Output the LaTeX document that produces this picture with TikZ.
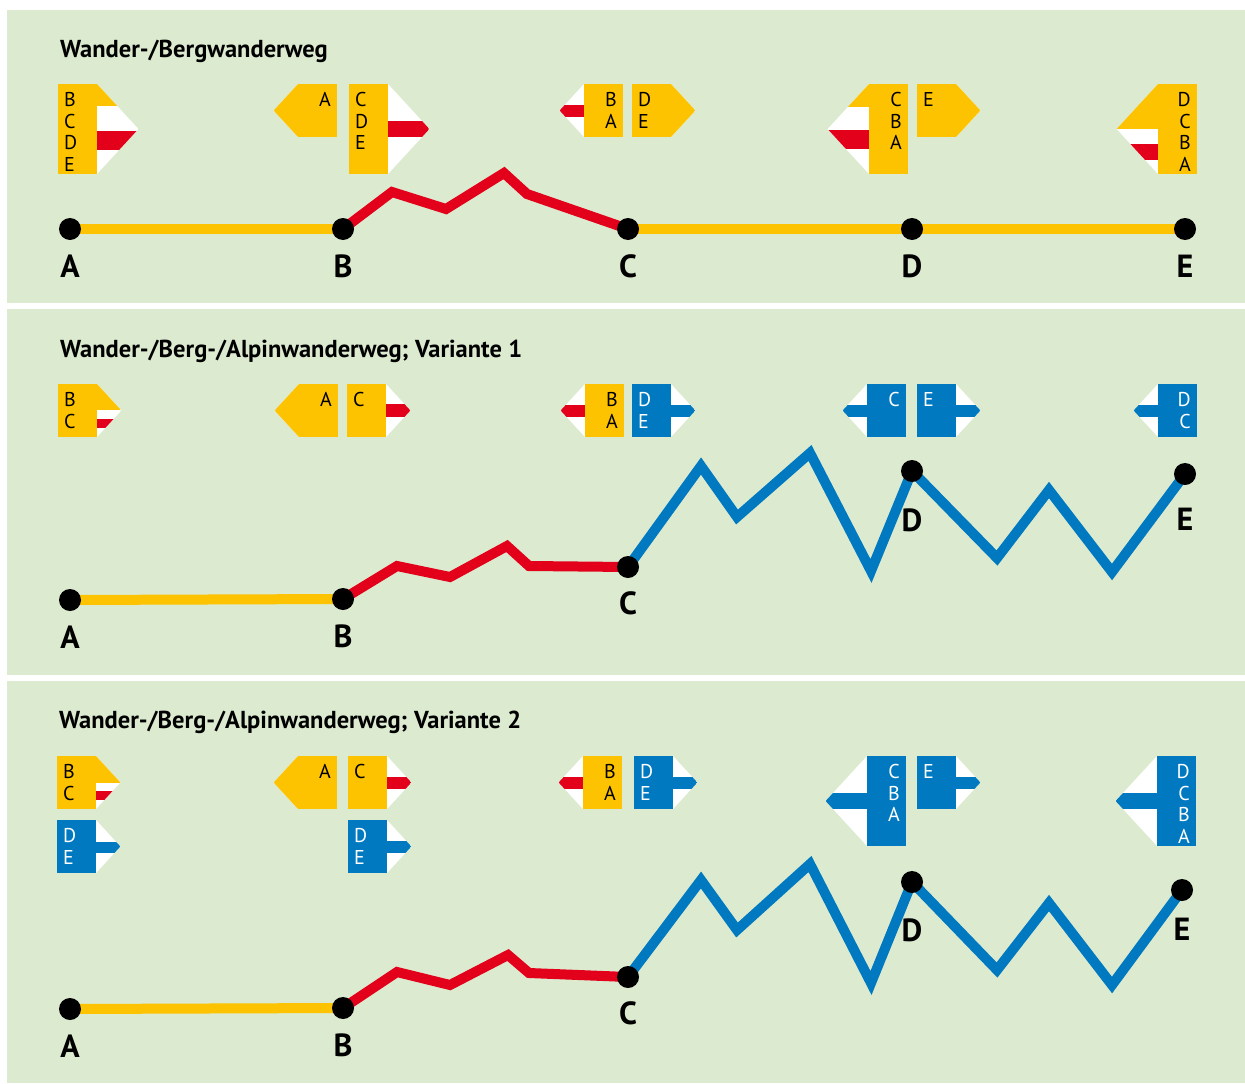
\documentclass[tikz,border=0pt]{standalone}
\usepackage{fontspec}
\setmainfont{PT Sans}
\usetikzlibrary{positioning}
\pgfdeclarelayer{bg}
\pgfdeclarelayer{trail}
\pgfsetlayers{bg,trail,main}
\definecolor{wegyellow}{RGB}{253,195,0}
\definecolor{bergred}{RGB}{227,0,27}
\definecolor{alpinblue}{RGB}{0,121,192}
\definecolor{panelgreen}{RGB}{220,235,207}
\tikzset{
	% panels and titles
	panel/.style={fill=panelgreen},
	title/.style={anchor=base west,inner sep=0pt,font=\bfseries\fontsize{24.5}{27}\selectfont},
	% stops on the trail
	stop/.style={circle,fill=black,minimum size=22pt,inner sep=0pt},
	stoplabel/.style={inner sep=0pt,font=\bfseries\fontsize{32}{34}\selectfont},
	% trail styles
	wanderweg/.style={wegyellow,line width=10pt},
	bergweg/.style={bergred,line width=10pt,line join=miter},
	alpinweg/.style={alpinblue,line width=10pt,line join=miter},
	% letters on the signs
	signtext/.style={inner sep=0pt,font=\fontsize{20}{21.7}\selectfont},
}
\newcommand{\signw}{39}
% #1 x, #2 y, #3 height, #4 direction (1 right, -1 left), #5 body colour,
% #6 band colour, #7 yellow part of the tip, #8 band centre, #9 band half width
\newcommand{\wegweiser}[9]{%
	\pgfmathsetmacro{\tipx}{#1+\signw*(1+#4)/2}%
	\pgfmathsetmacro{\endx}{\tipx+#4*0.46*#3}%
	\fill[#5] (#1,#2) rectangle ++(\signw,#3);
	\begin{scope}
		\clip (\tipx,#2) -- (\endx,#2+#3/2) -- (\tipx,#2+#3) -- cycle;
		\fill[white] (\tipx,#2) rectangle (\endx,#2+#3);
		\fill[#6] (\tipx,#2+#8-#9) rectangle (\endx,#2+#8+#9);
		\fill[wegyellow] (\tipx,#2) rectangle (\endx,#2+#7);
	\end{scope}}
% #1 name, #2 x, #3 y, #4 direction, #5 colour, #6 letters
\newcommand{\wegtext}[6]{%
	\ifnum#4>0
		\node[signtext,text=#5,align=left,anchor=north west] (#1) at (#2+6,#3+8) {#6};
	\else
		\node[signtext,text=#5,align=right,anchor=north east] (#1) at (#2+\signw-6,#3+8) {#6};
	\fi}

\begin{document}
\begin{tikzpicture}[x=1pt,y=-1pt]
\useasboundingbox (0,0) rectangle (1245,1084);
% the three panels
\begin{pgfonlayer}{bg}
\fill[white] (0,0) rectangle (1245,1084);
\fill[panel] (7,10) rectangle (1245,303);
\fill[panel] (7,309) rectangle (1245,675);
\fill[panel] (7,681) rectangle (1245,1083);
\end{pgfonlayer}
\node[title] (t1) at (60,57) {Wander-/Bergwanderweg};
\node[title] (t2) at (60,357) {Wander-/Berg-/Alpinwanderweg; Variante 1};
\node[title] (t3) at (59,728) {Wander-/Berg-/Alpinwanderweg; Variante 2};

% the stops
\foreach \n/\x/\y in {a1/70/229,b1/343/229,c1/628/229,d1/912/229,e1/1185/229,
	a2/70/600,b2/343/599,c2/628/567,d2/912/471,e2/1185/474,
	a3/70/1009,b3/343/1008,c3/628/977,d3/912/882,e3/1182/890}
  \node[stop] (\n) at (\x,\y) {};
\foreach \n/\lab/\d in {a1/A/14.5,b1/B/14.5,c1/C/14.5,d1/D/14.5,e1/E/14.5,
	a2/A/14.5,b2/B/14.5,c2/C/13.5,d2/D/26,e2/E/23,
	a3/A/14.5,b3/B/14.5,c3/C/13.5,d3/D/25,e3/E/17}
  \node[stoplabel,below=\d pt of \n] (l\n) {\lab};

% the trails
\begin{pgfonlayer}{trail}
\draw[wanderweg] (a1.center) -- (b1.center);
\draw[bergweg] (b1.center) -- (392,192) -- (446,209) -- (504,173) -- (527,194) -- (c1.center);
\draw[wanderweg] (c1.center) -- (d1.center) -- (e1.center);
\draw[wanderweg] (a2.center) -- (b2.center);
\draw[bergweg] (b2.center) -- (397,566) -- (450,577) -- (507,546) -- (529,566) -- (c2.center);
\draw[alpinweg] (c2.center) -- (701,466) -- (737,517) -- (810,453) -- (871,571) -- (d2.center)
	-- (997,558) -- (1049,490) -- (1112,572) -- (e2.center);
\draw[wanderweg] (a3.center) -- (b3.center);
\draw[bergweg] (b3.center) -- (397,972) -- (450,985) -- (508,955) -- (529,973) -- (c3.center);
\draw[alpinweg] (c3.center) -- (701,880) -- (737,930) -- (810,864) -- (871,983) -- (d3.center)
	-- (997,970) -- (1049,903) -- (1112,985) -- (e3.center);
\end{pgfonlayer}

% signs, first panel
\wegweiser{58}{84}{90}{1}{wegyellow}{bergred}{22}{56}{9.5}
\wegtext{s11}{58}{84}{1}{black}{B\\C\\D\\E}
\wegweiser{298}{84}{53}{-1}{wegyellow}{wegyellow}{53}{0}{0}
\wegtext{s12}{298}{84}{-1}{black}{A}
\wegweiser{349}{84}{90}{1}{wegyellow}{bergred}{0}{45}{8}
\wegtext{s13}{349}{84}{1}{black}{C\\D\\E}
\wegweiser{584}{84}{53}{-1}{wegyellow}{bergred}{0}{27}{6}
\wegtext{s14}{584}{84}{-1}{black}{B\\A}
\wegweiser{632}{84}{53}{1}{wegyellow}{wegyellow}{53}{0}{0}
\wegtext{s15}{632}{84}{1}{black}{D\\E}
\wegweiser{869}{84}{90}{-1}{wegyellow}{bergred}{23}{55}{9.5}
\wegtext{s16}{869}{84}{-1}{black}{C\\B\\A}
\wegweiser{917}{84}{53}{1}{wegyellow}{wegyellow}{53}{0}{0}
\wegtext{s17}{917}{84}{1}{black}{E}
\wegweiser{1158}{84}{90}{-1}{wegyellow}{bergred}{45}{68}{8}
\wegtext{s18}{1158}{84}{-1}{black}{D\\C\\B\\A}

% signs, second panel
\wegweiser{58}{384}{53}{1}{wegyellow}{bergred}{26}{39.5}{4.5}
\wegtext{s21}{58}{384}{1}{black}{B\\C}
\wegweiser{299}{384}{53}{-1}{wegyellow}{wegyellow}{53}{0}{0}
\wegtext{s22}{299}{384}{-1}{black}{A}
\wegweiser{347}{384}{53}{1}{wegyellow}{bergred}{0}{26.5}{6.5}
\wegtext{s23}{347}{384}{1}{black}{C}
\wegweiser{585}{384}{53}{-1}{wegyellow}{bergred}{0}{27}{6}
\wegtext{s24}{585}{384}{-1}{black}{B\\A}
\wegweiser{632}{384}{53}{1}{alpinblue}{alpinblue}{0}{27}{6}
\wegtext{s25}{632}{384}{1}{white}{D\\E}
\wegweiser{867}{384}{53}{-1}{alpinblue}{alpinblue}{0}{27}{6}
\wegtext{s26}{867}{384}{-1}{white}{C}
\wegweiser{917}{384}{53}{1}{alpinblue}{alpinblue}{0}{27}{6}
\wegtext{s27}{917}{384}{1}{white}{E}
\wegweiser{1158}{384}{53}{-1}{alpinblue}{alpinblue}{0}{27}{6}
\wegtext{s28}{1158}{384}{-1}{white}{D\\C}

% signs, third panel
\wegweiser{57}{756}{53}{1}{wegyellow}{bergred}{27}{39.5}{4.5}
\wegtext{s31}{57}{756}{1}{black}{B\\C}
\wegweiser{57}{820}{53}{1}{alpinblue}{alpinblue}{0}{27.5}{5.5}
\wegtext{s32}{57}{820}{1}{white}{D\\E}
\wegweiser{298}{756}{53}{-1}{wegyellow}{wegyellow}{53}{0}{0}
\wegtext{s33}{298}{756}{-1}{black}{A}
\wegweiser{348}{756}{53}{1}{wegyellow}{bergred}{0}{27}{6}
\wegtext{s34}{348}{756}{1}{black}{C}
\wegweiser{348}{820}{53}{1}{alpinblue}{alpinblue}{0}{27}{6}
\wegtext{s35}{348}{820}{1}{white}{D\\E}
\wegweiser{583}{756}{53}{-1}{wegyellow}{bergred}{0}{27}{6}
\wegtext{s36}{583}{756}{-1}{black}{B\\A}
\wegweiser{634}{756}{53}{1}{alpinblue}{alpinblue}{0}{27}{6}
\wegtext{s37}{634}{756}{1}{white}{D\\E}
\wegweiser{867}{756}{90}{-1}{alpinblue}{alpinblue}{0}{45}{8}
\wegtext{s38}{867}{756}{-1}{white}{C\\B\\A}
\wegweiser{917}{756}{53}{1}{alpinblue}{alpinblue}{0}{27}{6}
\wegtext{s39}{917}{756}{1}{white}{E}
\wegweiser{1157}{756}{90}{-1}{alpinblue}{alpinblue}{0}{45}{8}
\wegtext{s310}{1157}{756}{-1}{white}{D\\C\\B\\A}
\end{tikzpicture}
\end{document}
